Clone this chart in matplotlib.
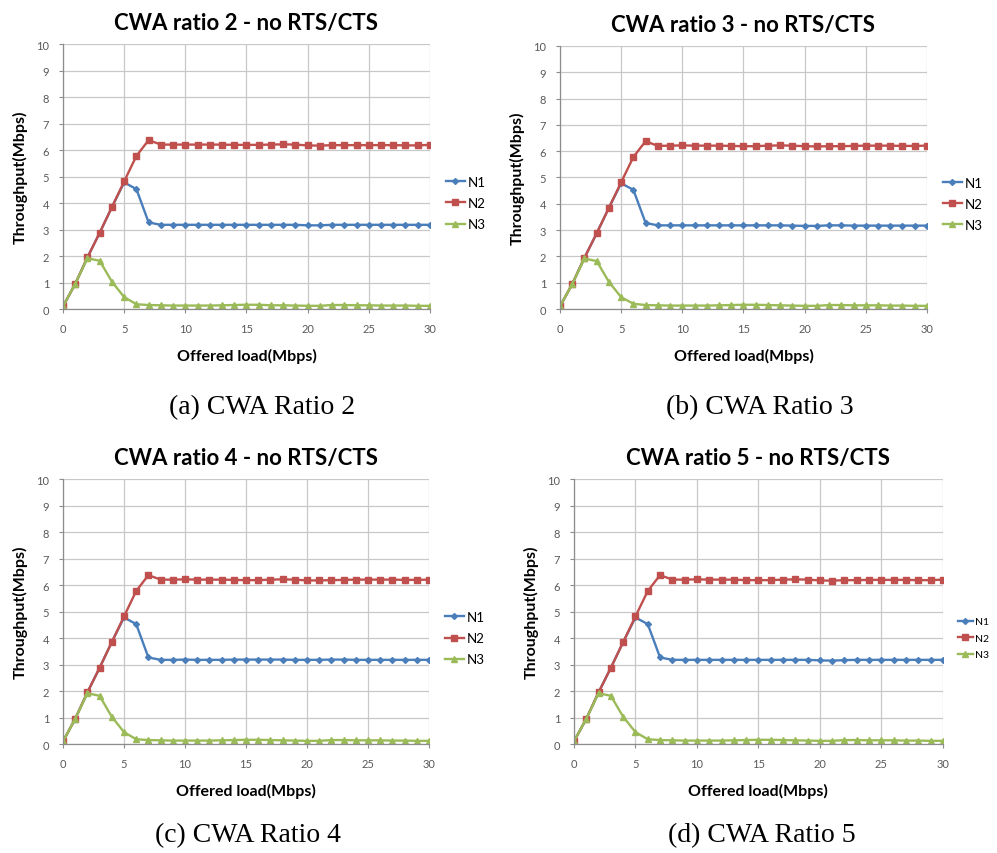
import matplotlib
matplotlib.use("Agg")
import matplotlib.pyplot as plt
import numpy as np

plt.rcParams["font.family"] = ["Lato", "DejaVu Sans"]

# offered load (Mbps)
load = list(range(0, 31))

# CWA ratio 2
n1_r2 = [0.10, 0.95, 1.95, 2.88, 3.85, 4.78, 4.53, 3.27, 3.18, 3.18, 3.18, 3.18, 3.18, 3.18, 3.18, 3.18,
         3.18, 3.18, 3.18, 3.18, 3.16, 3.16, 3.18, 3.18, 3.18, 3.18, 3.18, 3.18, 3.18, 3.18, 3.18]
n2_r2 = [0.10, 0.95, 1.95, 2.88, 3.85, 4.82, 5.78, 6.38, 6.21, 6.21, 6.21, 6.21, 6.21, 6.21, 6.20, 6.20,
         6.20, 6.21, 6.22, 6.21, 6.18, 6.17, 6.19, 6.19, 6.19, 6.19, 6.19, 6.19, 6.18, 6.18, 6.20]
n3_r2 = [0.10, 0.95, 1.92, 1.82, 1.03, 0.45, 0.18, 0.15, 0.14, 0.13, 0.13, 0.13, 0.13, 0.14, 0.15, 0.16,
         0.16, 0.14, 0.14, 0.13, 0.12, 0.12, 0.15, 0.15, 0.14, 0.14, 0.13, 0.13, 0.13, 0.12, 0.12]

# CWA ratio 3
n1_r3 = [0.10, 0.95, 1.95, 2.88, 3.85, 4.78, 4.53, 3.27, 3.18, 3.18, 3.18, 3.18, 3.18, 3.18, 3.18, 3.18,
         3.18, 3.18, 3.18, 3.17, 3.16, 3.16, 3.18, 3.18, 3.17, 3.17, 3.17, 3.17, 3.17, 3.17, 3.17]
n2_r3 = [0.10, 0.95, 1.95, 2.88, 3.85, 4.82, 5.78, 6.38, 6.20, 6.21, 6.22, 6.21, 6.21, 6.21, 6.20, 6.19,
         6.19, 6.21, 6.22, 6.21, 6.19, 6.18, 6.19, 6.19, 6.20, 6.21, 6.21, 6.21, 6.20, 6.20, 6.21]
n3_r3 = [0.10, 0.95, 1.92, 1.82, 1.03, 0.45, 0.20, 0.15, 0.14, 0.13, 0.13, 0.13, 0.13, 0.14, 0.15, 0.16,
         0.16, 0.15, 0.14, 0.13, 0.12, 0.12, 0.15, 0.15, 0.14, 0.14, 0.14, 0.13, 0.13, 0.12, 0.12]

# CWA ratio 4
n1_r4 = [0.10, 0.95, 1.95, 2.88, 3.85, 4.78, 4.53, 3.27, 3.18, 3.18, 3.19, 3.18, 3.18, 3.18, 3.19, 3.19,
         3.19, 3.19, 3.19, 3.18, 3.18, 3.18, 3.19, 3.19, 3.18, 3.18, 3.18, 3.18, 3.18, 3.18, 3.18]
n2_r4 = [0.10, 0.95, 1.95, 2.88, 3.85, 4.82, 5.78, 6.38, 6.21, 6.21, 6.22, 6.21, 6.21, 6.21, 6.20, 6.19,
         6.19, 6.21, 6.22, 6.21, 6.18, 6.18, 6.19, 6.20, 6.21, 6.21, 6.21, 6.21, 6.20, 6.20, 6.21]
n3_r4 = [0.10, 0.95, 1.92, 1.82, 1.03, 0.45, 0.18, 0.15, 0.14, 0.13, 0.13, 0.13, 0.13, 0.14, 0.15, 0.16,
         0.16, 0.15, 0.14, 0.13, 0.12, 0.12, 0.15, 0.15, 0.14, 0.14, 0.14, 0.13, 0.13, 0.12, 0.12]

# CWA ratio 5
n1_r5 = [0.10, 0.95, 1.95, 2.88, 3.85, 4.78, 4.53, 3.27, 3.18, 3.18, 3.18, 3.18, 3.18, 3.18, 3.18, 3.18,
         3.18, 3.18, 3.18, 3.18, 3.16, 3.15, 3.17, 3.18, 3.18, 3.18, 3.18, 3.18, 3.18, 3.18, 3.18]
n2_r5 = [0.10, 0.95, 1.95, 2.88, 3.85, 4.82, 5.78, 6.38, 6.21, 6.21, 6.22, 6.21, 6.21, 6.21, 6.19, 6.19,
         6.19, 6.21, 6.22, 6.21, 6.18, 6.17, 6.19, 6.19, 6.20, 6.20, 6.20, 6.20, 6.19, 6.19, 6.21]
n3_r5 = [0.10, 0.95, 1.92, 1.82, 1.03, 0.45, 0.18, 0.15, 0.14, 0.13, 0.13, 0.13, 0.13, 0.14, 0.15, 0.16,
         0.16, 0.15, 0.14, 0.13, 0.12, 0.12, 0.15, 0.15, 0.14, 0.14, 0.14, 0.13, 0.13, 0.12, 0.12]

series_names = ["N1", "N2", "N3"]
ratios = [2, 3, 4, 5]
captions = ["(a) CWA Ratio 2", "(b) CWA Ratio 3", "(c) CWA Ratio 4", "(d) CWA Ratio 5"]
panel_data = [(n1_r2, n2_r2, n3_r2), (n1_r3, n2_r3, n3_r3),
              (n1_r4, n2_r4, n3_r4), (n1_r5, n2_r5, n3_r5)]

colors = ["#4A7EBB", "#C0504D", "#9BBB59"]
markers = ["D", "s", "^"]
msizes = [3.0, 5.0, 4.0]

# axes rectangles [left, bottom, width, height] in figure fraction
rects = [
    [0.0632, 0.637, 0.368, 0.310],
    [0.5617, 0.637, 0.368, 0.308],
    [0.0632, 0.1276, 0.367, 0.310],
    [0.5757, 0.1276, 0.370, 0.310],
]
caption_pos = [(0.263, 0.523), (0.762, 0.523), (0.249, 0.022), (0.764, 0.022)]
legend_fs = [9.5, 9.5, 9.5, 7.5]

fig = plt.figure(figsize=(9.97, 8.54), dpi=100)

for i, (rect, data) in enumerate(zip(rects, panel_data)):
    ax = fig.add_axes(rect)
    for ys, name, c, m, ms in zip(data, series_names, colors, markers, msizes):
        ax.plot(load, ys, color=c, marker=m, markersize=ms, linewidth=1.7,
                markeredgecolor=c, label=name)
    ax.set_xlim(0, 30)
    ax.set_ylim(0, 10)
    ax.set_xticks(np.arange(0, 31, 5))
    ax.set_yticks(np.arange(0, 11, 1))
    ax.grid(color="#C8C8C8", linewidth=0.9)
    ax.set_axisbelow(True)
    for side in ["top", "right"]:
        ax.spines[side].set_visible(False)
    for side in ["left", "bottom"]:
        ax.spines[side].set_color("#8C8C8C")
        ax.spines[side].set_linewidth(0.9)
    ax.tick_params(axis="both", length=3, color="#8C8C8C", labelsize=8,
                   labelcolor="#595959")
    ax.tick_params(axis="x", pad=7)
    ax.tick_params(axis="y", pad=7)
    ax.set_title(f"CWA ratio {ratios[i]} - no RTS/CTS", fontsize=16,
                 fontweight="bold", pad=11)
    ax.set_xlabel("Offered load(Mbps)", fontsize=11.5, fontweight="bold", labelpad=10)
    ax.set_ylabel("Throughput(Mbps)", fontsize=11.5, fontweight="bold", labelpad=6)
    ax.legend(loc="center left", bbox_to_anchor=(1.03, 0.40), frameon=False,
              fontsize=legend_fs[i], handlelength=1.4, handletextpad=0.2,
              labelspacing=0.7, borderaxespad=0)
    cx, cy = caption_pos[i]
    fig.text(cx, cy, captions[i], ha="center", va="center", fontsize=20,
             family=["Liberation Serif", "DejaVu Serif"])

fig.savefig("out.png", dpi=100)
